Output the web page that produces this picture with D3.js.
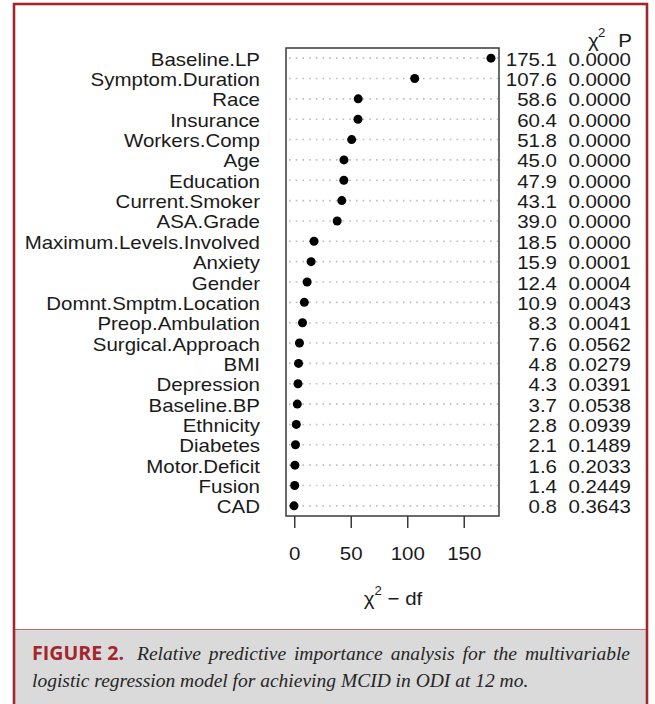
<!DOCTYPE html>
<html>
<head>
<meta charset="utf-8">
<script src="https://cdn.jsdelivr.net/npm/d3@7"></script>
<style>
  body { margin: 0; background: #fff; }
  svg text { fill: #1a1a1a; }
</style>
</head>
<body>
<svg id="chart" width="655" height="704"></svg>
<script>
// predictors, top to bottom (sorted by chi-square minus df)
var predictors = ["Baseline.LP", "Symptom.Duration", "Race", "Insurance", "Workers.Comp",
  "Age", "Education", "Current.Smoker", "ASA.Grade", "Maximum.Levels.Involved",
  "Anxiety", "Gender", "Domnt.Smptm.Location", "Preop.Ambulation", "Surgical.Approach",
  "BMI", "Depression", "Baseline.BP", "Ethnicity", "Diabetes", "Motor.Deficit", "Fusion", "CAD"];

// chi-square minus df (the plotted dots)
var chiMinusDf = [174.1, 106.6, 56.6, 56.4, 50.8, 44.0, 43.9, 42.1, 38.0, 17.5,
  14.9, 11.4, 8.9, 7.3, 4.6, 3.8, 3.3, 2.7, 1.8, 1.1, 0.6, 0.4, -0.2];

// printed columns on the right
var chiSq = ["175.1", "107.6", "58.6", "60.4", "51.8", "45.0", "47.9", "43.1", "39.0", "18.5",
  "15.9", "12.4", "10.9", "8.3", "7.6", "4.8", "4.3", "3.7", "2.8", "2.1", "1.6", "1.4", "0.8"];
var pValues = ["0.0000", "0.0000", "0.0000", "0.0000", "0.0000", "0.0000", "0.0000", "0.0000",
  "0.0000", "0.0000", "0.0001", "0.0004", "0.0043", "0.0041", "0.0562", "0.0279", "0.0391",
  "0.0538", "0.0939", "0.1489", "0.2033", "0.2449", "0.3643"];

var xTicks = [0, 50, 100, 150];

var captionLine1 = ["Relative", "predictive", "importance", "analysis", "for", "the", "multivariable"];
var captionLine2 = "logistic regression model for achieving MCID in ODI at 12 mo.";

var svg = d3.select("#chart");
var fs = 18.6;       // label font size
var sx = 1.1;        // figure is a bit wider than tall
var sans = "Liberation Sans, Arial, Helvetica, sans-serif";

var rows = predictors.map(function(p, i) {
  return { name: p, val: chiMinusDf[i], chi: chiSq[i], p: pValues[i] };
});

var box = { left: 286, right: 499, top: 48, bottom: 516 };

var x = d3.scaleLinear()
  .domain([-7.3, 181.2])
  .range([box.left, box.right]);

var y = d3.scalePoint()
  .domain(predictors)
  .range([box.top, box.bottom])
  .padding(0.5);

// outer red frame + caption panel
svg.append("rect")
  .attr("x", 14).attr("y", 630)
  .attr("width", 633).attr("height", 80)
  .attr("fill", "#dadada");
svg.append("line")
  .attr("x1", 14).attr("x2", 647)
  .attr("y1", 629.5).attr("y2", 629.5)
  .attr("stroke", "#c46a70").attr("stroke-width", 1.2);
svg.append("rect")
  .attr("x", 14).attr("y", 4)
  .attr("width", 633).attr("height", 720)
  .attr("fill", "none")
  .attr("stroke", "#a3262d")
  .attr("stroke-width", 2.6);

// dotted grid lines
svg.append("g")
  .selectAll("line")
  .data(rows)
  .enter()
  .append("line")
  .attr("x1", box.left + 3)
  .attr("x2", box.right - 1)
  .attr("y1", function(d) { return y(d.name); })
  .attr("y2", function(d) { return y(d.name); })
  .attr("stroke", "#bdbdbd")
  .attr("stroke-width", 1.6)
  .attr("stroke-dasharray", "1.6,5.1");

// plot box
svg.append("rect")
  .attr("x", box.left).attr("y", box.top)
  .attr("width", box.right - box.left)
  .attr("height", box.bottom - box.top)
  .attr("fill", "none")
  .attr("stroke", "#3a3a3a")
  .attr("stroke-width", 1.5);

// dots
svg.append("g")
  .selectAll("circle")
  .data(rows)
  .enter()
  .append("circle")
  .attr("cx", function(d) { return x(d.val); })
  .attr("cy", function(d) { return y(d.name); })
  .attr("r", 4.5)
  .attr("fill", "#000");

function stretchedText(g, tx, ty, anchor, txt) {
  return g.append("text")
    .attr("transform", "translate(" + tx + "," + ty + ") scale(" + sx + ",1)")
    .attr("text-anchor", anchor)
    .attr("font-size", fs)
    .style("font-family", sans)
    .text(txt);
}

// left labels and right columns
var labG = svg.append("g");
rows.forEach(function(d) {
  var yy = y(d.name) + 7.5;
  stretchedText(labG, 260, yy, "end", d.name);
  stretchedText(labG, 557, yy, "end", d.chi);
  stretchedText(labG, 631, yy, "end", d.p);
});

// column header
stretchedText(svg, 588, 47, "start", "\u03c7");
stretchedText(svg, 598, 37, "start", "2").attr("font-size", 12);
stretchedText(svg, 632, 46.5, "end", "P");

// x axis
var xAxis = d3.axisBottom(x)
  .tickValues(xTicks)
  .tickSize(12)
  .tickSizeOuter(0);

var ax = svg.append("g")
  .attr("transform", "translate(0," + box.bottom + ")")
  .call(xAxis);
ax.select(".domain").remove();
ax.selectAll(".tick line").attr("stroke", "#3a3a3a").attr("stroke-width", 1.5);
ax.selectAll(".tick text")
  .attr("y", 44)
  .attr("dy", null)
  .attr("transform", "scale(" + sx + ",1)")
  .attr("font-size", fs)
  .style("font-family", sans)
  .attr("fill", "#1a1a1a");

// x axis title
var xt = svg.append("text")
  .attr("transform", "translate(393,605) scale(" + sx + ",1)")
  .attr("text-anchor", "middle")
  .attr("font-size", fs)
  .style("font-family", sans);
xt.append("tspan").text("\u03c7");
xt.append("tspan").attr("font-size", 12).attr("dy", -10).attr("dx", 0).text("2");
xt.append("tspan").attr("dy", 10).text(" \u2212 df");

// caption
svg.append("text")
  .attr("x", 32).attr("y", 660)
  .attr("font-weight", "bold")
  .attr("font-size", 20)
  .attr("textLength", 92)
  .attr("lengthAdjust", "spacingAndGlyphs")
  .style("font-family", "Open Sans, sans-serif")
  .style("fill", "#a3262d")
  .text("FIGURE 2.");

var capStyle = function(t) {
  return t.style("font-family", "Liberation Serif, Times New Roman, serif")
    .attr("font-style", "italic")
    .attr("font-size", 19.5)
    .style("fill", "#262626");
};

// first caption line is justified between 137 and 630
var words = captionLine1.map(function(w) {
  return capStyle(svg.append("text").attr("y", 660).text(w));
});
var widths = words.map(function(t) { return t.node().getComputedTextLength(); });
var gap = (630 - 137 - d3.sum(widths)) / (words.length - 1);
var cx = 137;
words.forEach(function(t, i) {
  t.attr("x", cx);
  cx += widths[i] + gap;
});

capStyle(svg.append("text").attr("x", 32).attr("y", 687).text(captionLine2));
</script>
</body>
</html>
